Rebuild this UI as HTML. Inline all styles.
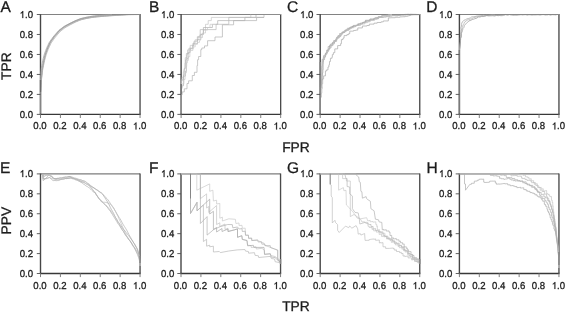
<!DOCTYPE html>
<html><head><meta charset="utf-8"><title>ROC and PR curves</title>
<style>
html,body{margin:0;padding:0;background:#fff;}
body{width:567px;height:312px;overflow:hidden;font-family:"Liberation Sans",sans-serif;}
svg text{font-family:"Liberation Sans",sans-serif;fill:#1c1c1c;stroke:#1c1c1c;stroke-width:0.3px;text-rendering:geometricPrecision;}
.t{font-size:10.0px;text-rendering:geometricPrecision;}
.L{font-size:15.5px;}
.g1{fill:#1c1c1c;stroke:#1c1c1c;stroke-width:0.2px;}
.a{font-size:13.8px;}
</style></head><body>
<svg width="567" height="312" viewBox="0 0 567 312" style="display:block;will-change:transform;opacity:0.999">
<rect width="567" height="312" fill="#fff"/>
<path d="M40.5 14.5H140.05" fill="none" stroke="#6c6c6c" stroke-width="0.85"/>
<path d="M40.5 114.4V14.1" fill="none" stroke="#464646" stroke-width="1.4"/>
<path d="M140.05 114.4V14.1" fill="none" stroke="#4a4a4a" stroke-width="1.35"/>
<polyline points="40.5,114.4 40.5,92.42 40.5,90.73 40.5,89.04 40.5,87.35 40.5,85.66 40.5,83.96 40.5,82.26 40.5,80.55 40.5,78.85 40.5,77.16 40.54,75.46 40.62,73.77 40.77,72.09 40.93,70.38 41.18,68.66 41.49,66.98 41.8,65.32 42.12,63.66 42.44,61.99 42.8,60.31 43.2,58.65 43.6,57.01 44.02,55.34 44.53,53.68 45.13,52.07 45.71,50.48 46.31,48.87 46.98,47.28 47.71,45.74 48.42,44.21 49.17,42.63 50.1,41.14 51.1,39.75 52.1,38.38 53.1,36.99 54.2,35.67 55.31,34.39 56.43,33.12 57.54,31.84 58.68,30.53 60.04,29.45 61.41,28.44 62.77,27.44 64.15,26.42 65.66,25.59 67.15,24.79 68.64,23.99 70.15,23.21 71.67,22.47 73.19,21.73 74.72,20.98 76.29,20.32 77.86,19.68 79.44,19.03 81.08,18.5 82.74,18.1 84.38,17.69 86.05,17.31 87.72,17 89.38,16.68 91.06,16.37 92.75,16.14 94.43,15.92 96.11,15.69 97.8,15.49 99.49,15.32 101.17,15.15 102.85,15 104.54,14.88 106.24,14.79 107.93,14.71 109.62,14.63 111.31,14.56 112.99,14.5 114.68,14.5 116.37,14.5 118.06,14.5 119.75,14.5 121.44,14.5 123.14,14.5 124.83,14.5 126.52,14.5 128.22,14.5 129.91,14.5 131.6,14.5 133.29,14.5 134.98,14.5 136.67,14.5 138.36,14.5 140.05,14.5" fill="none" stroke="#999999" stroke-width="0.7" stroke-linejoin="round"/>
<polyline points="40.5,114.4 40.5,92.42 40.52,90.73 40.54,89.04 40.56,87.35 40.58,85.66 40.6,83.97 40.62,82.28 40.69,80.58 40.81,78.89 40.93,77.2 41.06,75.52 41.2,73.83 41.38,72.15 41.57,70.46 41.83,68.77 42.16,67.1 42.49,65.45 42.82,63.79 43.15,62.13 43.51,60.47 43.92,58.82 44.32,57.18 44.73,55.53 45.23,53.9 45.8,52.3 46.38,50.71 46.95,49.12 47.6,47.54 48.3,46 49,44.46 49.7,42.91 50.58,41.45 51.55,40.06 52.51,38.67 53.48,37.28 54.54,35.95 55.63,34.65 56.71,33.36 57.8,32.06 58.89,30.75 60.21,29.67 61.55,28.64 62.9,27.61 64.25,26.57 65.73,25.73 67.21,24.91 68.7,24.1 70.2,23.3 71.71,22.55 73.22,21.8 74.75,21.04 76.32,20.38 77.88,19.74 79.46,19.09 81.1,18.57 82.75,18.18 84.4,17.78 86.07,17.42 87.74,17.12 89.4,16.83 91.08,16.54 92.78,16.34 94.45,16.15 96.13,15.95 97.82,15.77 99.51,15.64 101.2,15.51 102.88,15.38 104.57,15.28 106.26,15.2 107.95,15.12 109.64,15.05 111.33,14.98 113.02,14.92 114.71,14.85 116.4,14.78 118.08,14.72 119.77,14.65 121.46,14.59 123.15,14.53 124.84,14.5 126.53,14.5 128.22,14.5 129.91,14.5 131.6,14.5 133.29,14.5 134.98,14.5 136.67,14.5 138.36,14.5 140.05,14.5" fill="none" stroke="#a7a7a7" stroke-width="0.7" stroke-linejoin="round"/>
<polyline points="40.5,114.4 40.5,92.42 40.58,90.73 40.65,89.05 40.73,87.36 40.81,85.67 40.88,83.98 40.96,82.3 41.08,80.61 41.25,78.93 41.43,77.25 41.6,75.57 41.77,73.89 41.94,72.21 42.11,70.53 42.36,68.86 42.67,67.2 42.98,65.54 43.29,63.88 43.6,62.22 43.95,60.56 44.33,58.92 44.71,57.27 45.1,55.63 45.57,54.01 46.13,52.41 46.68,50.82 47.24,49.22 47.87,47.66 48.55,46.11 49.23,44.57 49.91,43.02 50.77,41.57 51.73,40.18 52.69,38.79 53.65,37.4 54.7,36.08 55.78,34.78 56.87,33.49 57.95,32.19 59.04,30.9 60.34,29.83 61.69,28.81 63.03,27.79 64.38,26.77 65.85,25.95 67.34,25.15 68.83,24.34 70.33,23.57 71.85,22.84 73.37,22.1 74.89,21.37 76.46,20.73 78.03,20.11 79.6,19.48 81.21,18.99 82.86,18.62 84.5,18.24 86.16,17.9 87.82,17.62 89.49,17.35 91.16,17.08 92.84,16.89 94.51,16.71 96.19,16.52 97.87,16.36 99.56,16.23 101.24,16.1 102.93,15.97 104.61,15.84 106.3,15.73 107.98,15.63 109.67,15.53 111.36,15.43 113.04,15.33 114.73,15.23 116.42,15.13 118.1,15.03 119.79,14.93 121.48,14.84 123.16,14.75 124.85,14.66 126.54,14.58 128.22,14.5 129.91,14.5 131.6,14.5 133.29,14.5 134.98,14.5 136.67,14.5 138.36,14.5 140.05,14.5" fill="none" stroke="#929292" stroke-width="0.7" stroke-linejoin="round"/>
<polyline points="40.5,114.4 40.5,92.42 40.61,90.74 40.73,89.05 40.83,87.36 40.94,85.68 41.04,83.99 41.13,82.31 41.27,80.63 41.46,78.95 41.64,77.27 41.83,75.59 42,73.91 42.16,72.23 42.33,70.56 42.56,68.89 42.87,67.24 43.18,65.58 43.49,63.91 43.8,62.26 44.15,60.61 44.53,58.97 44.93,57.32 45.32,55.69 45.8,54.08 46.36,52.5 46.93,50.91 47.5,49.32 48.14,47.77 48.84,46.24 49.54,44.7 50.23,43.18 51.09,41.77 52.05,40.4 53.03,39.02 54,37.66 55.04,36.36 56.14,35.08 57.24,33.8 58.34,32.52 59.4,31.27 60.67,30.25 62.02,29.25 63.37,28.24 64.69,27.25 66.14,26.46 67.62,25.67 69.11,24.87 70.6,24.11 72.11,23.38 73.63,22.64 75.13,21.91 76.68,21.28 78.24,20.65 79.79,20.03 81.35,19.54 82.98,19.16 84.62,18.77 86.25,18.42 87.91,18.12 89.57,17.83 91.22,17.54 92.88,17.34 94.56,17.14 96.24,16.93 97.91,16.75 99.59,16.6 101.27,16.45 102.95,16.3 104.63,16.14 106.32,16 108,15.87 109.68,15.74 111.37,15.62 113.05,15.5 114.74,15.38 116.42,15.26 118.11,15.15 119.8,15.04 121.48,14.94 123.17,14.84 124.85,14.74 126.54,14.65 128.23,14.57 129.91,14.56 131.6,14.55 133.29,14.54 134.98,14.53 136.67,14.52 138.36,14.51 140.05,14.5" fill="none" stroke="#a2a2a2" stroke-width="0.7" stroke-linejoin="round"/>
<polyline points="40.5,114.4 40.5,92.42 40.62,90.74 40.74,89.05 40.85,87.36 40.96,85.68 41.07,83.99 41.18,82.31 41.34,80.64 41.55,78.96 41.77,77.29 41.99,75.61 42.2,73.93 42.39,72.26 42.58,70.59 42.85,68.94 43.18,67.29 43.53,65.64 43.87,63.99 44.21,62.34 44.59,60.71 45.01,59.08 45.43,57.44 45.85,55.83 46.35,54.26 46.94,52.7 47.53,51.11 48.12,49.55 48.77,48.03 49.47,46.52 50.19,44.99 50.87,43.51 51.7,42.17 52.66,40.82 53.64,39.44 54.59,38.09 55.61,36.82 56.69,35.55 57.78,34.26 58.87,32.96 59.88,31.75 61.08,30.77 62.4,29.76 63.74,28.72 65.01,27.74 66.4,26.94 67.87,26.12 69.33,25.3 70.8,24.51 72.29,23.75 73.8,22.98 75.28,22.23 76.79,21.57 78.35,20.91 79.87,20.26 81.41,19.75 83.02,19.35 84.65,18.93 86.28,18.56 87.93,18.24 89.58,17.93 91.23,17.63 92.89,17.42 94.57,17.21 96.24,17 97.91,16.81 99.59,16.66 101.28,16.52 102.96,16.38 104.64,16.22 106.32,16.09 108.01,15.97 109.69,15.86 111.38,15.75 113.06,15.64 114.75,15.53 116.43,15.42 118.12,15.32 119.81,15.21 121.49,15.11 123.18,15.01 124.86,14.91 126.55,14.81 128.23,14.72 129.91,14.7 131.6,14.67 133.29,14.65 134.98,14.61 136.67,14.58 138.36,14.54 140.05,14.5" fill="none" stroke="#ababab" stroke-width="0.7" stroke-linejoin="round"/>
<path d="M40.5 114.4L40.5 92" stroke="#858585" stroke-width="1.4"/>
<path d="M40.5 92L40.5 80" stroke="#6a6a6a" stroke-width="1.4"/>
<path d="M112 14.5L140.05 14.5" stroke="#848484" stroke-width="0.85"/>
<path d="M39.9 114.4H140.65" fill="none" stroke="#383838" stroke-width="1.35"/>
<path d="M36.8 114.4H40.5" stroke="#505050" stroke-width="0.9"/>
<text transform="translate(33,118) scale(0.96,1)" text-anchor="end" class="t">0.0</text>
<path d="M40.5 114.4V118" stroke="#808080" stroke-width="1"/>
<text transform="translate(40,129.4) scale(0.96,1)" text-anchor="middle" class="t">0.0</text>
<path d="M36.8 94.42H40.5" stroke="#505050" stroke-width="0.9"/>
<text transform="translate(33,98.02) scale(0.96,1)" text-anchor="end" class="t">0.2</text>
<path d="M60.41 114.4V118" stroke="#808080" stroke-width="1"/>
<text transform="translate(59.91,129.4) scale(0.96,1)" text-anchor="middle" class="t">0.2</text>
<path d="M36.8 74.44H40.5" stroke="#505050" stroke-width="0.9"/>
<text transform="translate(33,78.04) scale(0.96,1)" text-anchor="end" class="t">0.4</text>
<path d="M80.32 114.4V118" stroke="#808080" stroke-width="1"/>
<text transform="translate(79.82,129.4) scale(0.96,1)" text-anchor="middle" class="t">0.4</text>
<path d="M36.8 54.46H40.5" stroke="#505050" stroke-width="0.9"/>
<text transform="translate(33,58.06) scale(0.96,1)" text-anchor="end" class="t">0.6</text>
<path d="M100.23 114.4V118" stroke="#808080" stroke-width="1"/>
<text transform="translate(99.73,129.4) scale(0.96,1)" text-anchor="middle" class="t">0.6</text>
<path d="M36.8 34.48H40.5" stroke="#505050" stroke-width="0.9"/>
<text transform="translate(33,38.08) scale(0.96,1)" text-anchor="end" class="t">0.8</text>
<path d="M120.14 114.4V118" stroke="#808080" stroke-width="1"/>
<text transform="translate(119.64,129.4) scale(0.96,1)" text-anchor="middle" class="t">0.8</text>
<path d="M36.8 14.5H40.5" stroke="#505050" stroke-width="0.9"/>
<path d="M3.42 -7.0H2.8Q2.3 -5.9 1.0 -5.25V-4.4Q1.95 -4.75 2.55 -5.45V0H3.42Z" transform="translate(19.66,18.1) scale(1.043,1)" class="g1"/><text transform="translate(24.99,18.1) scale(0.96,1)" text-anchor="start" class="t">.0</text>
<path d="M140.05 114.4V118" stroke="#808080" stroke-width="1"/>
<path d="M3.42 -7.0H2.8Q2.3 -5.9 1.0 -5.25V-4.4Q1.95 -4.75 2.55 -5.45V0H3.42Z" transform="translate(132.88,129.4) scale(1.043,1)" class="g1"/><text transform="translate(138.22,129.4) scale(0.96,1)" text-anchor="start" class="t">.0</text>
<text x="0.6" y="11.8" class="L">A</text>
<path d="M181.1 14.5H280.65" fill="none" stroke="#6c6c6c" stroke-width="0.85"/>
<path d="M181.1 114.4V14.1" fill="none" stroke="#464646" stroke-width="1.4"/>
<path d="M280.65 114.4V14.1" fill="none" stroke="#4a4a4a" stroke-width="1.35"/>
<polyline points="181.1,114.4 181.1,86 181.1,84.22 181.63,84.22 181.63,81.05 182.1,81.05 182.1,77.27 183.36,77.27 183.36,71.79 184.04,71.79 184.04,69.42 184.67,69.42 184.67,66.32 184.79,66.32 184.79,63.26 185.23,63.26 185.23,57.75 186.95,57.75 186.95,54.69 187.53,54.69 187.53,49.91 190.23,49.91 190.23,45.38 192.98,45.38 192.98,43.08 195.13,43.08 195.13,39.78 198.13,39.78 198.13,37.32 197.74,37.32 200.2,37.5 200.2,34.3 203.4,34.3 203.4,30.1 205.5,30.1 205.5,24.3 208.2,24.3 208.2,20.6 211.3,20.6 211.3,17.4 250.8,17.4 250.8,14.5 280.6,14.5" fill="none" stroke="#c5c5c5" stroke-width="0.7" stroke-linejoin="round"/>
<polyline points="181.1,114.4 181.1,90.9 181.1,88.38 182.09,88.38 182.09,85.77 183.53,85.77 183.53,82.55 183.65,82.55 183.65,76.1 185.42,76.1 185.42,71.21 186.4,71.21 186.4,65.46 186.37,65.46 186.37,62.86 187.09,62.86 187.09,58.4 188.14,58.4 188.14,52.42 190.19,52.42 190.19,48.69 193.17,48.69 193.17,43.76 197.38,43.76 197.38,39.69 200.8,39.69 201,34.3 203.4,34.3 203.4,27.5 212.4,27.5 212.4,24.3 217.7,24.3 217.7,20.6 244.9,20.6 244.9,17.4 256,17.4 256,14.5 280.6,14.5" fill="none" stroke="#b0b0b0" stroke-width="0.7" stroke-linejoin="round"/>
<polyline points="181.1,114.4 181.1,84 181.1,79.85 183.52,79.85 183.52,74.92 184.24,74.92 184.24,68.42 185.45,68.42 185.45,65.05 185.49,65.05 185.49,59.87 186.33,59.87 186.33,53.55 188.93,53.55 188.93,48.19 192.43,48.19 192.43,45.59 194.06,45.59 194.06,41.18 197.33,41.18 197.33,36.74 199.31,36.74 199.31,36.24 198.83,36.24 200.2,36 200.2,29.6 216.1,29.6 216.1,24.3 228.8,24.3 228.8,17.4 264,17.4 264,14.5 280.6,14.5" fill="none" stroke="#b9b9b9" stroke-width="0.7" stroke-linejoin="round"/>
<polyline points="181.1,114.4 181.1,88 181.1,84.09 183.8,84.09 183.8,79.45 185.07,79.45 185.07,72.82 186.43,72.82 186.43,66.34 186.73,66.34 186.73,60.35 188.4,60.35 188.4,56.69 189.86,56.69 189.86,50.48 192.89,50.48 192.89,46.88 195.22,46.88 195.22,44.19 197.46,44.19 197.46,42.39 199.52,42.39 199.52,40.95 199.94,40.95 200,37.5 202.5,37.5 202.5,33 205.5,33 205.5,30.1 207.5,30.1 207.5,27.5 210,27.5 210,24.3 212.4,24.3" fill="none" stroke="#cacaca" stroke-width="0.7" stroke-linejoin="round"/>
<polyline points="181.1,114.4 181.1,94.6 182.2,94.6 182.2,91.9 184.3,91.9 184.3,88.8 187,88.8 187,83.5 188.6,83.5 188.6,80.8 192.3,80.8 192.3,75.5 194.4,75.5 194.4,72.3 197,72.3 197,65.5 197.6,65.5 197.6,59.7 198.6,59.7 198.6,56.5 200.8,56.5 200.8,49.6 201.8,49.6 201.8,48 204.5,48 204.5,45.9 207.6,45.9 207.6,40.7 215,40.7 215,37 222.4,37 222.4,24.8 233.6,24.8 233.6,20.6 256.6,20.6 256.6,17.4 264,17.4" fill="none" stroke="#b2b2b2" stroke-width="0.7" stroke-linejoin="round"/>
<path d="M181.1 114.4L181.1 94" stroke="#858585" stroke-width="1.4"/>
<path d="M181.1 94L181.1 84" stroke="#686868" stroke-width="1.4"/>
<path d="M250.8 14.5L280.65 14.5" stroke="#848484" stroke-width="0.85"/>
<path d="M180.5 114.4H281.25" fill="none" stroke="#383838" stroke-width="1.35"/>
<path d="M177.4 114.4H181.1" stroke="#505050" stroke-width="0.9"/>
<text transform="translate(174.3,118) scale(0.96,1)" text-anchor="end" class="t">0.0</text>
<path d="M181.1 114.4V118" stroke="#808080" stroke-width="1"/>
<text transform="translate(180.6,129.4) scale(0.96,1)" text-anchor="middle" class="t">0.0</text>
<path d="M177.4 94.42H181.1" stroke="#505050" stroke-width="0.9"/>
<text transform="translate(174.3,98.02) scale(0.96,1)" text-anchor="end" class="t">0.2</text>
<path d="M201.01 114.4V118" stroke="#808080" stroke-width="1"/>
<text transform="translate(200.51,129.4) scale(0.96,1)" text-anchor="middle" class="t">0.2</text>
<path d="M177.4 74.44H181.1" stroke="#505050" stroke-width="0.9"/>
<text transform="translate(174.3,78.04) scale(0.96,1)" text-anchor="end" class="t">0.4</text>
<path d="M220.92 114.4V118" stroke="#808080" stroke-width="1"/>
<text transform="translate(220.42,129.4) scale(0.96,1)" text-anchor="middle" class="t">0.4</text>
<path d="M177.4 54.46H181.1" stroke="#505050" stroke-width="0.9"/>
<text transform="translate(174.3,58.06) scale(0.96,1)" text-anchor="end" class="t">0.6</text>
<path d="M240.83 114.4V118" stroke="#808080" stroke-width="1"/>
<text transform="translate(240.33,129.4) scale(0.96,1)" text-anchor="middle" class="t">0.6</text>
<path d="M177.4 34.48H181.1" stroke="#505050" stroke-width="0.9"/>
<text transform="translate(174.3,38.08) scale(0.96,1)" text-anchor="end" class="t">0.8</text>
<path d="M260.74 114.4V118" stroke="#808080" stroke-width="1"/>
<text transform="translate(260.24,129.4) scale(0.96,1)" text-anchor="middle" class="t">0.8</text>
<path d="M177.4 14.5H181.1" stroke="#505050" stroke-width="0.9"/>
<path d="M3.42 -7.0H2.8Q2.3 -5.9 1.0 -5.25V-4.4Q1.95 -4.75 2.55 -5.45V0H3.42Z" transform="translate(160.96,18.1) scale(1.043,1)" class="g1"/><text transform="translate(166.29,18.1) scale(0.96,1)" text-anchor="start" class="t">.0</text>
<path d="M280.65 114.4V118" stroke="#808080" stroke-width="1"/>
<path d="M3.42 -7.0H2.8Q2.3 -5.9 1.0 -5.25V-4.4Q1.95 -4.75 2.55 -5.45V0H3.42Z" transform="translate(273.48,129.4) scale(1.043,1)" class="g1"/><text transform="translate(278.82,129.4) scale(0.96,1)" text-anchor="start" class="t">.0</text>
<text x="149.0" y="11.8" class="L">B</text>
<path d="M320.2 14.5H419.75" fill="none" stroke="#6c6c6c" stroke-width="0.85"/>
<path d="M320.2 114.4V14.1" fill="none" stroke="#464646" stroke-width="1.4"/>
<path d="M419.75 114.4V14.1" fill="none" stroke="#4a4a4a" stroke-width="1.35"/>
<polyline points="320.2,114.4 320.2,112.43 319.98,112.43 319.98,108.26 320.34,108.26 320.34,104.36 320.04,104.36 320.04,102.16 320.3,102.16 320.3,98.98 320.14,98.98 320.14,96.24 320.2,96.24 320.2,92.47 320.43,92.47 320.43,88.28 320.91,88.28 320.91,86.9 320.92,86.9 320.92,85.36 321.53,85.36 321.53,80.96 321.54,80.96 321.54,78.5 321.72,78.5 321.72,74.33 321.97,74.33 321.97,72.77 322.04,72.77 322.04,70.22 321.92,70.22 321.92,66.16 322.1,66.16 322.1,64.04 322.05,64.04 322.05,59.38 323.49,59.38 323.49,55.74 325.23,55.74 325.23,54.39 326.01,54.39 326.01,52.99 326.7,52.99 326.7,50.15 328.17,50.15 328.17,46.54 330.4,46.54 330.4,44.13 332.33,44.13 332.33,42.7 333.73,42.7 333.73,40.52 335.53,40.52 335.53,39.51 336.58,39.51 336.58,37.77 337.97,37.77 337.97,35.55 339.64,35.55 339.64,33.54 341.87,33.54 341.87,32.3 343.91,32.3 343.91,31.14 345.71,31.14 345.71,30.03 347.27,30.03 347.27,28.25 350.05,28.25 350.05,27.11 351.84,27.11 351.84,26.59 353.52,26.59 353.52,25.42 357.2,25.42 357.2,24.17 360.43,24.17 360.43,22.99 363.61,22.99 363.61,21.99 365.44,21.99 365.44,20.24 370.06,20.24 370.06,18.9 373.94,18.9 373.94,18.32 375.52,18.32 375.52,17.48 378.12,17.48 378.12,16.69 381.62,16.69 381.62,15.58 385.51,15.58 385.51,15.37 390.08,15.37 390.08,14.76 392.6,14.76 392.6,15.09 396.85,15.09 396.85,15.03 400.51,15.03 400.51,14.87 403.18,14.87 403.18,14.9 406.33,14.9 406.33,14.57 410.97,14.57 410.97,14.6 414.94,14.6 414.94,14.55 418.12,14.55 418.12,14.56 419.71,14.56" fill="none" stroke="#a7a7a7" stroke-width="0.7" stroke-linejoin="round"/>
<polyline points="320.2,114.4 320.2,109.95 320.2,109.95 320.2,105.39 320.13,105.39 320.13,103.59 320.39,103.59 320.39,102.13 320.23,102.13 320.23,97.71 320.31,97.71 320.31,93.76 320.12,93.76 320.12,90.05 320.67,90.05 320.67,87.69 321.09,87.69 321.09,84.29 321.48,84.29 321.48,81.05 321.64,81.05 321.64,77.61 321.55,77.61 321.55,75.71 321.69,75.71 321.69,72.68 321.63,72.68 321.63,70.31 321.86,70.31 321.86,66.09 322.24,66.09 322.24,61.78 323.22,61.78 323.22,57.36 325.19,57.36 325.19,54.47 326.68,54.47 326.68,52.04 328.03,52.04 328.03,50.38 329.05,50.38 329.05,48.98 329.89,48.98 329.89,47.67 331.16,47.67 331.16,45.72 332.77,45.72 332.77,43.79 334.5,43.79 334.5,41.56 336.03,41.56 336.03,38.26 338.82,38.26 338.82,35.98 340.83,35.98 340.83,33.48 343.03,33.48 343.03,32 344.83,32 344.83,31.13 346.44,31.13 346.44,30.05 348.24,30.05 348.24,28.88 349.99,28.88 349.99,27.48 353.04,27.48 353.04,25.85 357,25.85 357,24.95 360.78,24.95 360.78,24.07 362.42,24.07 362.42,22.41 366.44,22.41 366.44,21.04 370.58,21.04 370.58,19.74 374.29,19.74 374.29,18.28 378.47,18.28 378.47,16.78 382.04,16.78 382.04,15.78 386.04,15.78 386.04,15.38 388.32,15.38 388.32,14.62 393.34,14.62 393.34,14.67 397.83,14.67 397.83,14.54 399.74,14.54 399.74,14.54 403.89,14.54 403.89,14.54 407.52,14.54 407.52,14.58 410.19,14.58 410.19,14.32 413.43,14.32 413.43,14.36 416.42,14.36 416.42,14.56 419.61,14.56" fill="none" stroke="#b9b9b9" stroke-width="0.7" stroke-linejoin="round"/>
<polyline points="320.2,114.4 320.2,112.44 320.37,112.44 320.37,108.81 320.28,108.81 320.28,106.55 320.37,106.55 320.37,102.93 320.39,102.93 320.39,99.26 320.3,99.26 320.3,97.81 320.36,97.81 320.36,96.12 320.1,96.12 320.1,92.37 320.66,92.37 320.66,90.03 320.61,90.03 320.61,87.55 321.07,87.55 321.07,83.14 321.63,83.14 321.63,79.84 322.26,79.84 322.26,75.65 322.57,75.65 322.57,72.79 322.86,72.79 322.86,69.57 323.17,69.57 323.17,67.68 323.15,67.68 323.15,63.71 323.33,63.71 323.33,59.53 324.59,59.53 324.59,56.73 325.43,56.73 325.43,53.05 327.19,53.05 327.19,50.14 328.59,50.14 328.59,48.81 329.57,48.81 329.57,45.35 332.18,45.35 332.18,42.93 334.27,42.93 334.27,41.21 336.01,41.21 336.01,40.12 336.99,40.12 336.99,36.95 340.15,36.95 340.15,34.93 342.01,34.93 342.01,32.41 344.91,32.41 344.91,30.14 348.92,30.14 348.92,28.05 352.03,28.05 352.03,26.34 355.99,26.34 355.99,25.47 358.38,25.47 358.38,23.78 362.51,23.78 362.51,22.78 365.14,22.78 365.14,20.94 369.34,20.94 369.34,19.83 373.51,19.83 373.51,19.05 374.85,19.05 374.85,19.01 376.96,19.01 376.96,18.3 378.83,18.3 378.83,17.41 383.56,17.41 383.56,17.07 386.3,17.07 386.3,16.63 389.76,16.63 389.76,16.1 392.1,16.1 392.1,15.71 395.42,15.71 395.42,15.82 398.01,15.82 398.01,15.3 400.45,15.3 400.45,14.93 404.03,14.93 404.03,14.65 407.08,14.65 407.08,14.37 411.76,14.37 411.76,14.45 415.27,14.45 415.27,14.47 419.96,14.47" fill="none" stroke="#a2a2a2" stroke-width="0.7" stroke-linejoin="round"/>
<polyline points="320.2,114.4 320.2,111.97 320.19,111.97 320.19,110.03 320.44,110.03 320.44,107.11 320.16,107.11 320.16,105.09 320.26,105.09 320.26,103.57 320.13,103.57 320.13,100.54 320.11,100.54 320.11,95.51 320.39,95.51 320.39,91.2 320.14,91.2 320.14,87.17 321.03,87.17 321.03,84.75 321.04,84.75 321.04,81.38 321.16,81.38 321.16,79 321.18,79 321.18,77 321.67,77 321.67,75.13 321.67,75.13 321.67,72.53 321.43,72.53 321.43,67.94 322.24,67.94 322.24,63.57 322.52,63.57 322.52,59.46 324.29,59.46 324.29,55.28 326.17,55.28 326.17,53.34 327.31,53.34 327.31,51.45 328.56,51.45 328.56,47.96 330.75,47.96 330.75,44.9 333.3,44.9 333.3,41.49 336.6,41.49 336.6,37.72 339.29,37.72 339.29,36.51 340.81,36.51 340.81,33.57 342.87,33.57 342.87,31.46 346.06,31.46 346.06,29.76 349.21,29.76 349.21,28.97 350.82,28.97 350.82,27.77 353.78,27.77 353.78,26.86 355.41,26.86 355.41,25.36 360.37,25.36 360.37,23.93 364.84,23.93 364.84,22.68 367.74,22.68 367.74,21.78 370.06,21.78 370.06,20.39 374.65,20.39 374.65,19.03 378.29,19.03 378.29,17.5 382.36,17.5 382.36,16.18 386.83,16.18 386.83,15.67 390.05,15.67 390.05,14.78 392.95,14.78 392.95,14.8 396.97,14.8 396.97,14.62 400.05,14.62 400.05,14.69 402.09,14.69 402.09,14.69 404.64,14.69 404.64,14.34 408.92,14.34 408.92,14.71 410.44,14.71 410.44,14.73 412.44,14.73 412.44,14.59 415.92,14.59 415.92,14.57 418.65,14.57 418.65,14.51 419.95,14.51" fill="none" stroke="#bebebe" stroke-width="0.7" stroke-linejoin="round"/>
<polyline points="320.2,114.4 320.2,110.59 320.14,110.59 320.14,106.48 320.31,106.48 320.31,102.12 320.13,102.12 320.13,97.28 321.3,97.28 321.3,93.12 321.79,93.12 321.79,88.62 322.17,88.62 322.17,87.01 322.07,87.01 322.07,83.79 322.66,83.79 322.66,78.89 323.61,78.89 323.61,75.88 325.45,75.88 325.45,71.15 326.34,71.15 326.34,69.96 327.97,69.96 327.97,66.98 328.88,66.98 328.88,64.81 329.49,64.81 329.49,61.52 330.42,61.52 330.42,58.26 332.03,58.26 332.03,56.86 332.34,56.86 332.34,54.62 333.4,54.62 333.4,52.64 334.81,52.64 334.81,48.9 337.68,48.9 337.68,45.54 340.63,45.54 340.63,43.63 341.42,43.63 341.42,39.58 343,39.58 343,38.1 344.08,38.1 344.08,35.58 346.91,35.58 346.91,34.59 348.78,34.59 348.78,33.55 349.76,33.55 349.76,31.15 353.59,31.15 353.59,30.46 355.73,30.46 355.73,30.09 357.79,30.09 357.79,27.94 362.38,27.94 362.38,26.03 366.94,26.03 366.94,25.52 369.32,25.52 369.32,24.13 374.05,24.13 374.05,23.17 377.2,23.17 377.2,22.47 381.07,22.47 381.07,21.85 383.31,21.85 383.31,20.95 388.34,20.95 388.34,17.88 390.41,17.88 390.41,17.72 395.21,17.72 395.21,17.29 399.91,17.29 399.91,16.86 402.43,16.86 402.43,16.74 405.19,16.74 405.19,16.3 407.48,16.3 407.48,15.89 409.31,15.89 409.31,15.35 410.79,15.35 410.79,14.72 413.4,14.72 413.4,14.64 416.92,14.64 416.92,14.59 418.58,14.59 418.58,14.59 419.86,14.59" fill="none" stroke="#a7a7a7" stroke-width="0.7" stroke-linejoin="round"/>
<path d="M320.2 114.4L320.2 62" stroke="#858585" stroke-width="1.4"/>
<path d="M392 14.5L419.75 14.5" stroke="#848484" stroke-width="0.85"/>
<path d="M319.6 114.4H420.35" fill="none" stroke="#383838" stroke-width="1.35"/>
<path d="M316.5 114.4H320.2" stroke="#505050" stroke-width="0.9"/>
<text transform="translate(313.4,118) scale(0.96,1)" text-anchor="end" class="t">0.0</text>
<path d="M320.2 114.4V118" stroke="#808080" stroke-width="1"/>
<text transform="translate(319.7,129.4) scale(0.96,1)" text-anchor="middle" class="t">0.0</text>
<path d="M316.5 94.42H320.2" stroke="#505050" stroke-width="0.9"/>
<text transform="translate(313.4,98.02) scale(0.96,1)" text-anchor="end" class="t">0.2</text>
<path d="M340.11 114.4V118" stroke="#808080" stroke-width="1"/>
<text transform="translate(339.61,129.4) scale(0.96,1)" text-anchor="middle" class="t">0.2</text>
<path d="M316.5 74.44H320.2" stroke="#505050" stroke-width="0.9"/>
<text transform="translate(313.4,78.04) scale(0.96,1)" text-anchor="end" class="t">0.4</text>
<path d="M360.02 114.4V118" stroke="#808080" stroke-width="1"/>
<text transform="translate(359.52,129.4) scale(0.96,1)" text-anchor="middle" class="t">0.4</text>
<path d="M316.5 54.46H320.2" stroke="#505050" stroke-width="0.9"/>
<text transform="translate(313.4,58.06) scale(0.96,1)" text-anchor="end" class="t">0.6</text>
<path d="M379.93 114.4V118" stroke="#808080" stroke-width="1"/>
<text transform="translate(379.43,129.4) scale(0.96,1)" text-anchor="middle" class="t">0.6</text>
<path d="M316.5 34.48H320.2" stroke="#505050" stroke-width="0.9"/>
<text transform="translate(313.4,38.08) scale(0.96,1)" text-anchor="end" class="t">0.8</text>
<path d="M399.84 114.4V118" stroke="#808080" stroke-width="1"/>
<text transform="translate(399.34,129.4) scale(0.96,1)" text-anchor="middle" class="t">0.8</text>
<path d="M316.5 14.5H320.2" stroke="#505050" stroke-width="0.9"/>
<path d="M3.42 -7.0H2.8Q2.3 -5.9 1.0 -5.25V-4.4Q1.95 -4.75 2.55 -5.45V0H3.42Z" transform="translate(300.06,18.1) scale(1.043,1)" class="g1"/><text transform="translate(305.39,18.1) scale(0.96,1)" text-anchor="start" class="t">.0</text>
<path d="M419.75 114.4V118" stroke="#808080" stroke-width="1"/>
<path d="M3.42 -7.0H2.8Q2.3 -5.9 1.0 -5.25V-4.4Q1.95 -4.75 2.55 -5.45V0H3.42Z" transform="translate(412.58,129.4) scale(1.043,1)" class="g1"/><text transform="translate(417.92,129.4) scale(0.96,1)" text-anchor="start" class="t">.0</text>
<text x="286.9" y="11.8" class="L">C</text>
<path d="M459.4 14.5H558.95" fill="none" stroke="#6c6c6c" stroke-width="0.85"/>
<path d="M459.4 114.4V14.1" fill="none" stroke="#464646" stroke-width="1.4"/>
<path d="M558.95 114.4V14.1" fill="none" stroke="#4a4a4a" stroke-width="1.35"/>
<polyline points="459.4,114.4 459.4,50 460.3,41.7 460.3,39.8 460.23,38.57 460.6,36.71 460.66,34.79 460.87,33.21 460.98,31.56 461.19,29.71 460.9,27.8 461.48,26.12 461.62,24.73 461.71,23.25 462.53,21.82 464.18,20.13 465.63,19.73 466.76,18.96 468.35,18.52 470.35,17.96 471.54,17 473.59,16.77 474.94,16.56 477.11,15.98 478.32,16.08 480.21,15.92 481.97,15.57 483.34,15.23 485.35,15.48 487.03,15.38 488.82,15.37 490.61,14.87 491.95,14.58 493.59,15.03 495.88,14.87 497.06,14.81 498.78,14.96 500.86,14.86 502.54,14.62 504.42,15 505.7,14.62 507.76,14.79 509.24,14.62 511.34,14.5 512.52,14.78 514.28,14.92 516.02,14.93 517.77,14.9 519.74,14.79 521.07,14.5 522.66,14.5 524.81,14.5 526.22,14.65 527.87,14.5 529.64,14.71 531.27,14.93 533.32,14.73 534.99,14.57 537,14.85 538.6,14.5 540.15,14.87 541.89,14.56 543.61,14.5 545.38,14.74 546.63,14.54 548.71,14.5 550.48,14.82 552.34,14.5 553.53,14.76 555.56,14.74 557.45,14.5 558.9,14.5" fill="none" stroke="#9d9d9d" stroke-width="0.7" stroke-linejoin="round"/>
<polyline points="459.4,114.4 459.4,51 460.4,41.7 460.65,39.69 460.54,38.16 461.01,36.81 461.27,34.72 461.1,33.01 461.21,31.68 461.4,29.82 462.17,28.42 462.29,26.82 463.2,24.81 463.87,23.77 464.56,22.06 466.25,21.08 467.07,20.03 469.09,19.62 470.62,19.09 472,18.65 473.47,17.81 475.39,17.35 477.02,16.84 478.56,16.15 479.9,16.14 481.46,15.91 483.14,15.75 485.19,15.63 486.67,15.36 488.28,15.79 490.22,15.5 491.57,15.52 493.24,15.21 495.5,15.33 496.87,15.31 498.75,15.36 500,14.83 501.73,14.87 503.29,15 505.43,14.55 506.96,14.6 508.82,14.64 510.04,14.5 511.93,14.5 513.62,14.93 515.17,14.5 517.27,14.65 518.31,14.5 520.01,14.72 522.16,14.57 523.33,14.54 525.66,14.63 527.33,14.86 528.33,14.76 530.48,14.62 531.87,14.69 533.44,14.54 535.36,14.9 537.33,14.5 538.75,14.5 540.72,14.82 541.97,14.65 543.86,14.5 545.65,14.57 547.34,14.56 548.48,14.5 550.17,14.83 552.45,14.75 553.73,14.5 555.81,14.82 556.93,14.5 558.9,14.5" fill="none" stroke="#b0b0b0" stroke-width="0.7" stroke-linejoin="round"/>
<polyline points="459.4,114.4 459.4,52 460.5,41.7 460.39,40.19 460.68,38.39 461.27,36.97 461.33,35.12 461.24,33.44 461.94,32.14 462.54,30.48 462.94,28.49 463.88,27.43 464.35,25.46 465.24,24.29 466.57,23.21 467.71,22.21 468.95,20.85 470.15,20.64 472.23,19.57 473.8,19.11 474.79,18.72 476.68,18.2 478.3,17.03 479.84,17.04 481.67,16.51 483.06,16.55 484.45,16.44 486.52,15.66 488.04,15.7 489.41,15.85 491.62,15.79 492.67,15.73 494.8,16.03 496.41,15.36 498.24,15.73 499.28,15.38 500.94,15.73 502.57,15.62 503.93,14.72 505.82,14.5 507.17,14.97 509.51,14.5 511,15.02 512.77,14.94 514.03,14.81 515.8,14.96 517.6,14.89 519.37,14.56 520.93,14.5 522.23,14.94 524.02,14.76 525.8,14.5 527.47,14.9 528.94,14.5 530.5,14.5 532.61,14.74 534.36,14.71 536.02,14.5 537.13,14.5 538.93,14.91 540.47,14.54 542.02,14.5 544.01,14.63 545.65,14.84 547.55,14.86 549.01,14.5 550.35,14.71 552.03,14.5 554.07,14.5 555.67,14.5 557.19,14.5 558.9,14.5" fill="none" stroke="#969696" stroke-width="0.7" stroke-linejoin="round"/>
<path d="M459.4 114.4L459.4 50" stroke="#7a7a7a" stroke-width="1.4"/>
<path d="M495 14.5L558.95 14.5" stroke="#848484" stroke-width="0.85"/>
<path d="M458.8 114.4H559.55" fill="none" stroke="#383838" stroke-width="1.35"/>
<path d="M455.7 114.4H459.4" stroke="#505050" stroke-width="0.9"/>
<text transform="translate(452.3,118) scale(0.96,1)" text-anchor="end" class="t">0.0</text>
<path d="M459.4 114.4V118" stroke="#808080" stroke-width="1"/>
<text transform="translate(458.9,129.4) scale(0.96,1)" text-anchor="middle" class="t">0.0</text>
<path d="M455.7 94.42H459.4" stroke="#505050" stroke-width="0.9"/>
<text transform="translate(452.3,98.02) scale(0.96,1)" text-anchor="end" class="t">0.2</text>
<path d="M479.31 114.4V118" stroke="#808080" stroke-width="1"/>
<text transform="translate(478.81,129.4) scale(0.96,1)" text-anchor="middle" class="t">0.2</text>
<path d="M455.7 74.44H459.4" stroke="#505050" stroke-width="0.9"/>
<text transform="translate(452.3,78.04) scale(0.96,1)" text-anchor="end" class="t">0.4</text>
<path d="M499.22 114.4V118" stroke="#808080" stroke-width="1"/>
<text transform="translate(498.72,129.4) scale(0.96,1)" text-anchor="middle" class="t">0.4</text>
<path d="M455.7 54.46H459.4" stroke="#505050" stroke-width="0.9"/>
<text transform="translate(452.3,58.06) scale(0.96,1)" text-anchor="end" class="t">0.6</text>
<path d="M519.13 114.4V118" stroke="#808080" stroke-width="1"/>
<text transform="translate(518.63,129.4) scale(0.96,1)" text-anchor="middle" class="t">0.6</text>
<path d="M455.7 34.48H459.4" stroke="#505050" stroke-width="0.9"/>
<text transform="translate(452.3,38.08) scale(0.96,1)" text-anchor="end" class="t">0.8</text>
<path d="M539.04 114.4V118" stroke="#808080" stroke-width="1"/>
<text transform="translate(538.54,129.4) scale(0.96,1)" text-anchor="middle" class="t">0.8</text>
<path d="M455.7 14.5H459.4" stroke="#505050" stroke-width="0.9"/>
<path d="M3.42 -7.0H2.8Q2.3 -5.9 1.0 -5.25V-4.4Q1.95 -4.75 2.55 -5.45V0H3.42Z" transform="translate(438.96,18.1) scale(1.043,1)" class="g1"/><text transform="translate(444.29,18.1) scale(0.96,1)" text-anchor="start" class="t">.0</text>
<path d="M558.95 114.4V118" stroke="#808080" stroke-width="1"/>
<path d="M3.42 -7.0H2.8Q2.3 -5.9 1.0 -5.25V-4.4Q1.95 -4.75 2.55 -5.45V0H3.42Z" transform="translate(551.78,129.4) scale(1.043,1)" class="g1"/><text transform="translate(557.12,129.4) scale(0.96,1)" text-anchor="start" class="t">.0</text>
<text x="426.3" y="11.8" class="L">D</text>
<path d="M40.5 173.9H140.05" fill="none" stroke="#7c7c7c" stroke-width="1.3"/>
<path d="M40.5 273.5V173.5" fill="none" stroke="#464646" stroke-width="1.4"/>
<path d="M140.05 273.5V173.5" fill="none" stroke="#4a4a4a" stroke-width="1.35"/>
<polyline points="42.9,174 43,175.68 44.09,176.01 45.17,175.76 46.26,175.25 47.34,175.07 48.43,174.71 49.51,174.91 50.6,175.73 51.68,176.32 52.77,177.23 53.85,178.58 54.94,178.58 56.02,178.81 57.11,178.26 58.2,178.29 59.28,178.24 60.37,177.81 61.45,177.99 62.54,177.8 63.62,177.19 64.71,177.01 65.79,177.11 66.88,177.15 67.96,176.71 69.05,176.48 70.13,176.54 71.22,176.67 72.31,177.11 73.39,177.55 74.48,177.92 75.56,178.14 76.65,178.49 77.73,178.84 78.82,179.31 79.9,179.58 80.99,179.8 82.07,180.58 83.16,180.82 84.24,181.27 85.33,181.49 86.42,182.56 87.5,183.27 88.59,183.67 89.67,184.59 90.76,185.62 91.84,186.41 92.93,187.3 94.01,187.81 95.1,188.76 96.18,189.5 97.27,190.13 98.36,191.04 99.44,191.94 100.53,192.66 101.61,193.22 102.7,194.29 103.78,195.15 104.87,196.38 105.95,197.78 107.04,198.7 108.12,199.99 109.21,201.65 110.29,203.24 111.38,204.76 112.47,206.27 113.55,208.01 114.64,209.78 115.72,211.82 116.81,213.6 117.89,215.32 118.98,217.18 120.06,218.77 121.15,220.62 122.23,222.8 123.32,224.78 124.4,226.44 125.49,228.2 126.58,229.95 127.66,232.03 128.75,234.25 129.83,236.11 130.92,237.94 132,240.04 133.09,241.66 134.17,243.71 135.26,245.81 136.34,247.64 137.43,249.78 138.51,253 139.6,258.21 140,262 140,266" fill="none" stroke="#b0b0b0" stroke-width="0.7" stroke-linejoin="round"/>
<polyline points="42.9,174 43,177.24 44.09,176.77 45.17,175.85 46.26,175.42 47.34,175.36 48.43,174.95 49.51,174.67 50.6,175.14 51.68,176.3 52.77,177.4 53.85,178.55 54.94,178.49 56.02,178.68 57.11,178.78 58.2,179.14 59.28,179.38 60.37,179.42 61.45,179.23 62.54,179.14 63.62,178.94 64.71,178.66 65.79,178.57 66.88,178.66 67.96,178.42 69.05,178.24 70.13,178.25 71.22,178 72.31,178.31 73.39,178.41 74.48,178.54 75.56,178.91 76.65,179.02 77.73,179.4 78.82,179.86 79.9,179.91 80.99,179.86 82.07,180.43 83.16,180.63 84.24,180.92 85.33,181.43 86.42,182.19 87.5,183.26 88.59,184.18 89.67,185.7 90.76,187.07 91.84,188.18 92.93,189.92 94.01,191.21 95.1,192.35 96.18,194.25 97.27,196.23 98.36,198.1 99.44,199.26 100.53,200.57 101.61,201.22 102.7,201.98 103.78,202.28 104.87,202.24 105.95,202.42 107.04,202.73 108.12,203.14 109.21,203.68 110.29,204.33 111.38,205.33 112.47,206.77 113.55,207.94 114.64,209.97 115.72,211.66 116.81,214.18 117.89,216.1 118.98,218.78 120.06,221.1 121.15,223.5 122.23,226.06 123.32,228.64 124.4,231.08 125.49,233.29 126.58,235.36 127.66,237.47 128.75,239.42 129.83,240.75 130.92,242.05 132,244.15 133.09,245.7 134.17,247.28 135.26,248.44 136.34,250.24 137.43,251.41 138.51,254.55 139.6,258.57 140,262 140,266" fill="none" stroke="#bebebe" stroke-width="0.7" stroke-linejoin="round"/>
<polyline points="42.9,174.3 43,180.44 44.09,180.02 45.17,178.86 46.26,177.85 47.34,176.73 48.43,175.35 49.51,175.43 50.6,176.41 51.68,176.77 52.77,177.46 53.85,178.62 54.94,178.72 56.02,179.09 57.11,178.67 58.2,178.51 59.28,178.05 60.37,178.08 61.45,178.01 62.54,177.67 63.62,177.61 64.71,177.42 65.79,176.97 66.88,177.17 67.96,176.93 69.05,176.68 70.13,176.69 71.22,177.48 72.31,177.66 73.39,178.16 74.48,178.6 75.56,178.88 76.65,179.4 77.73,179.63 78.82,180.33 79.9,180.64 80.99,181.38 82.07,181.83 83.16,181.9 84.24,182.45 85.33,183.07 86.42,183.99 87.5,184.27 88.59,184.91 89.67,185.41 90.76,186.2 91.84,186.79 92.93,187.39 94.01,188.1 95.1,188.69 96.18,189.51 97.27,190.05 98.36,190.84 99.44,191.5 100.53,192.34 101.61,193.05 102.7,194.12 103.78,196.02 104.87,197.71 105.95,199.41 107.04,201.05 108.12,203.15 109.21,204.98 110.29,207.41 111.38,209.39 112.47,211.34 113.55,213.26 114.64,215.72 115.72,217.79 116.81,219.25 117.89,221.43 118.98,222.92 120.06,224.39 121.15,225.99 122.23,227.69 123.32,229.16 124.4,230.15 125.49,231.8 126.58,232.85 127.66,234.51 128.75,235.68 129.83,237.36 130.92,238.86 132,240.17 133.09,242.04 134.17,243.37 135.26,244.96 136.34,247.08 137.43,248.91 138.51,252.54 139.6,257.89 140,262 140,266" fill="none" stroke="#a9a9a9" stroke-width="0.7" stroke-linejoin="round"/>
<polyline points="42.9,174.3 43,178.52 44.09,178.4 45.17,178.55 46.26,178.39 47.34,178.06 48.43,177.7 49.51,177.6 50.6,177.98 51.68,178.52 52.77,178.69 53.85,178.99 54.94,179.12 56.02,179.49 57.11,179.22 58.2,179.03 59.28,179.19 60.37,179 61.45,178.87 62.54,178.77 63.62,178.37 64.71,178.31 65.79,178.42 66.88,178.42 67.96,178.43 69.05,178.38 70.13,177.89 71.22,178.17 72.31,178.6 73.39,178.9 74.48,179.09 75.56,179.56 76.65,179.69 77.73,180.44 78.82,180.81 79.9,181.1 80.99,181.38 82.07,182.07 83.16,182.28 84.24,182.93 85.33,183.52 86.42,184.01 87.5,184.69 88.59,185.58 89.67,186.51 90.76,187.57 91.84,188.95 92.93,190.48 94.01,191.27 95.1,192.4 96.18,194.42 97.27,196.14 98.36,197.88 99.44,199.25 100.53,200.48 101.61,201.99 102.7,202.52 103.78,203.47 104.87,204.23 105.95,205.36 107.04,206.17 108.12,207.41 109.21,208.86 110.29,210.02 111.38,211.57 112.47,213.23 113.55,214.38 114.64,216.11 115.72,218.03 116.81,220.19 117.89,222.03 118.98,223.74 120.06,225.67 121.15,227.47 122.23,229.5 123.32,231.15 124.4,233.3 125.49,235.11 126.58,236.68 127.66,238.05 128.75,239.54 129.83,240.35 130.92,241.99 132,244.03 133.09,245.6 134.17,247.06 135.26,248.99 136.34,250.83 137.43,253.08 138.51,255.13 139.6,259.46 140,262 140,266" fill="none" stroke="#bcbcbc" stroke-width="0.7" stroke-linejoin="round"/>
<polyline points="42.9,174.3 43,178.79 44.09,178.83 45.17,178.78 46.26,178.73 47.34,178.35 48.43,178.06 49.51,177.43 50.6,178.35 51.68,179.55 52.77,180.36 53.85,180.69 54.94,180.41 56.02,180.73 57.11,180.56 58.2,180.63 59.28,180.32 60.37,179.72 61.45,179.5 62.54,179.22 63.62,179.23 64.71,178.86 65.79,178.37 66.88,178.51 67.96,178 69.05,178.1 70.13,177.79 71.22,177.79 72.31,178.61 73.39,178.67 74.48,179.07 75.56,179.85 76.65,180.21 77.73,180.33 78.82,181.2 79.9,181.65 80.99,182.38 82.07,182.81 83.16,183.84 84.24,184.46 85.33,185.4 86.42,186.16 87.5,186.66 88.59,187.48 89.67,188.16 90.76,189.22 91.84,190.37 92.93,191.42 94.01,192.33 95.1,192.79 96.18,194.57 97.27,195.98 98.36,197.31 99.44,198.81 100.53,199.9 101.61,201.1 102.7,202.33 103.78,203.55 104.87,204.35 105.95,205.95 107.04,206.63 108.12,208.42 109.21,209.94 110.29,211.04 111.38,212.94 112.47,214.53 113.55,216.46 114.64,218.03 115.72,219.89 116.81,221.56 117.89,223.54 118.98,224.75 120.06,226.61 121.15,228.3 122.23,229.97 123.32,231.33 124.4,233.01 125.49,234.73 126.58,236.39 127.66,237.59 128.75,239.37 129.83,240.78 130.92,242.42 132,243.89 133.09,246.22 134.17,247.67 135.26,249.83 136.34,252.14 137.43,254.47 138.51,257.29 139.6,261.2 140,262 140,266" fill="none" stroke="#aeaeae" stroke-width="0.7" stroke-linejoin="round"/>
<path d="M140.05 256L140.05 263" stroke="#858585" stroke-width="1.4"/>
<path d="M39.9 273.5H140.65" fill="none" stroke="#383838" stroke-width="1.35"/>
<path d="M36.8 273.5H40.5" stroke="#505050" stroke-width="0.9"/>
<text transform="translate(33,276.7) scale(0.96,1)" text-anchor="end" class="t">0.0</text>
<path d="M40.5 273.5V277.1" stroke="#808080" stroke-width="1"/>
<text transform="translate(40,289) scale(0.96,1)" text-anchor="middle" class="t">0.0</text>
<path d="M36.8 253.58H40.5" stroke="#505050" stroke-width="0.9"/>
<text transform="translate(33,256.78) scale(0.96,1)" text-anchor="end" class="t">0.2</text>
<path d="M60.41 273.5V277.1" stroke="#808080" stroke-width="1"/>
<text transform="translate(59.91,289) scale(0.96,1)" text-anchor="middle" class="t">0.2</text>
<path d="M36.8 233.66H40.5" stroke="#505050" stroke-width="0.9"/>
<text transform="translate(33,236.86) scale(0.96,1)" text-anchor="end" class="t">0.4</text>
<path d="M80.32 273.5V277.1" stroke="#808080" stroke-width="1"/>
<text transform="translate(79.82,289) scale(0.96,1)" text-anchor="middle" class="t">0.4</text>
<path d="M36.8 213.74H40.5" stroke="#505050" stroke-width="0.9"/>
<text transform="translate(33,216.94) scale(0.96,1)" text-anchor="end" class="t">0.6</text>
<path d="M100.23 273.5V277.1" stroke="#808080" stroke-width="1"/>
<text transform="translate(99.73,289) scale(0.96,1)" text-anchor="middle" class="t">0.6</text>
<path d="M36.8 193.82H40.5" stroke="#505050" stroke-width="0.9"/>
<text transform="translate(33,197.02) scale(0.96,1)" text-anchor="end" class="t">0.8</text>
<path d="M120.14 273.5V277.1" stroke="#808080" stroke-width="1"/>
<text transform="translate(119.64,289) scale(0.96,1)" text-anchor="middle" class="t">0.8</text>
<path d="M36.8 173.9H40.5" stroke="#505050" stroke-width="0.9"/>
<path d="M3.42 -7.0H2.8Q2.3 -5.9 1.0 -5.25V-4.4Q1.95 -4.75 2.55 -5.45V0H3.42Z" transform="translate(19.66,177.1) scale(1.043,1)" class="g1"/><text transform="translate(24.99,177.1) scale(0.96,1)" text-anchor="start" class="t">.0</text>
<path d="M140.05 273.5V277.1" stroke="#808080" stroke-width="1"/>
<path d="M3.42 -7.0H2.8Q2.3 -5.9 1.0 -5.25V-4.4Q1.95 -4.75 2.55 -5.45V0H3.42Z" transform="translate(132.88,289) scale(1.043,1)" class="g1"/><text transform="translate(138.22,289) scale(0.96,1)" text-anchor="start" class="t">.0</text>
<text x="0.1" y="173.4" class="L">E</text>
<path d="M181 173.9H280.55" fill="none" stroke="#7c7c7c" stroke-width="1.3"/>
<path d="M181 273.5V173.5" fill="none" stroke="#464646" stroke-width="1.4"/>
<path d="M280.55 273.5V173.5" fill="none" stroke="#4a4a4a" stroke-width="1.35"/>
<polyline points="181,173.8 196.8,173.8 196.8,190.2 209.7,183.9 209.7,191.3 212.9,190.2 213.4,201 216.6,200.2 216.6,204 219.8,203.4 219.8,218.2 222.4,217.2 222.4,221 228.8,218.8 235.4,219.3 235.9,223.5 239,223 239.1,225.6 242,225.3 242.3,228.3 245.2,228.2 245.5,235.2 248.4,235.6 248.6,238.3 251.6,238.4 251.8,240.5 257.6,240.3 258.7,241 264,243.2 264.3,245 270.3,247.4 274.6,249 277.7,250.4 277.7,258 280.6,261.5" fill="none" stroke="#cacaca" stroke-width="0.7" stroke-linejoin="round"/>
<polyline points="181,173.8 200.4,173.8 200.4,198.7 206.6,193.9 206.6,208 208.7,206.5 208.7,212.5 216.6,205.5 216.6,224.5 219.8,222.8 219.8,226.5 225,224 225,229.5 228,228.2 228,231.5 234.3,229.9 237.5,228.8 237.5,237.3 241.8,235.7 242.3,239.4 247,240.5 247.6,245.2 251,245.6 251.3,247.5 256,246.8 256.3,249 262,248.3 264.5,250.5 264.5,254.3 270.3,253.8 271,255.5 275,256.5 277.7,258.5 280.6,262.2" fill="none" stroke="#c3c3c3" stroke-width="0.7" stroke-linejoin="round"/>
<polyline points="181,173.8 200.4,173.8 200.4,223.5 207.1,216.6 207.1,235.1 214,229.3 220.3,226.6 227.7,224.5 232.3,224.6 232.8,227.8 237.5,227 239.1,229 242,228.6 242.3,231.5 245.2,231.2 245.5,235.2 248.4,235 248.6,238.3 251.6,238 251.8,240.5 257.6,239.9 258.2,242 261.5,241.8 261.9,244.2 264.8,244 265,245.7 270.3,245.7 270.3,247.4 274.6,249 277.7,250 277.7,260.1 280.6,262" fill="none" stroke="#b2b2b2" stroke-width="0.7" stroke-linejoin="round"/>
<polyline points="181,173.8 190.5,173.8 190.5,213.5 197,202.3 197,210.8 209.7,199.2 209.7,214 213.4,211.3 213.4,229.5 216.6,227.5 216.6,232 222,228.5 222,231.5 228,229 228,231.5 234.3,229.9 237.5,228.8 237.5,237.3 241.8,235.7 242.3,239.4 247,240.5 247.6,245.8 253.4,245.3 253.9,247.4 264,247.4 264.5,254.3 270.3,253.8 271,257 275,257.5 277.7,260.1 280.6,262.5" fill="none" stroke="#ababab" stroke-width="0.7" stroke-linejoin="round"/>
<polyline points="181,173.8 190.5,173.8 190.5,213.5 197,202.3 197,210.8 203.4,205 203.4,241.5 206.6,239.3 206.6,246.2 209.7,245.2 209.7,246.8 213.4,246.2 213.4,252 219.3,251.5 220.3,252.6 228.8,251 237.3,249.9 244.9,249.5 245.5,251.1 248.4,251.5 248.6,253.2 254.5,252.7 255,255.3 258.4,255.8 258.7,257.5 270.3,256.4 271.4,258.5 274.6,259 275.1,261.7 280.6,262.8" fill="none" stroke="#b9b9b9" stroke-width="0.7" stroke-linejoin="round"/>
<polyline points="190.5,173.8 190.5,198.5" fill="none" stroke="#7c7c7c" stroke-width="0.84" stroke-linejoin="round"/>
<path d="M280.55 259L280.55 264" stroke="#858585" stroke-width="1.4"/>
<path d="M180.4 273.5H281.15" fill="none" stroke="#383838" stroke-width="1.35"/>
<path d="M177.3 273.5H181" stroke="#505050" stroke-width="0.9"/>
<text transform="translate(174.3,276.7) scale(0.96,1)" text-anchor="end" class="t">0.0</text>
<path d="M181 273.5V277.1" stroke="#808080" stroke-width="1"/>
<text transform="translate(180.5,289) scale(0.96,1)" text-anchor="middle" class="t">0.0</text>
<path d="M177.3 253.58H181" stroke="#505050" stroke-width="0.9"/>
<text transform="translate(174.3,256.78) scale(0.96,1)" text-anchor="end" class="t">0.2</text>
<path d="M200.91 273.5V277.1" stroke="#808080" stroke-width="1"/>
<text transform="translate(200.41,289) scale(0.96,1)" text-anchor="middle" class="t">0.2</text>
<path d="M177.3 233.66H181" stroke="#505050" stroke-width="0.9"/>
<text transform="translate(174.3,236.86) scale(0.96,1)" text-anchor="end" class="t">0.4</text>
<path d="M220.82 273.5V277.1" stroke="#808080" stroke-width="1"/>
<text transform="translate(220.32,289) scale(0.96,1)" text-anchor="middle" class="t">0.4</text>
<path d="M177.3 213.74H181" stroke="#505050" stroke-width="0.9"/>
<text transform="translate(174.3,216.94) scale(0.96,1)" text-anchor="end" class="t">0.6</text>
<path d="M240.73 273.5V277.1" stroke="#808080" stroke-width="1"/>
<text transform="translate(240.23,289) scale(0.96,1)" text-anchor="middle" class="t">0.6</text>
<path d="M177.3 193.82H181" stroke="#505050" stroke-width="0.9"/>
<text transform="translate(174.3,197.02) scale(0.96,1)" text-anchor="end" class="t">0.8</text>
<path d="M260.64 273.5V277.1" stroke="#808080" stroke-width="1"/>
<text transform="translate(260.14,289) scale(0.96,1)" text-anchor="middle" class="t">0.8</text>
<path d="M177.3 173.9H181" stroke="#505050" stroke-width="0.9"/>
<path d="M3.42 -7.0H2.8Q2.3 -5.9 1.0 -5.25V-4.4Q1.95 -4.75 2.55 -5.45V0H3.42Z" transform="translate(160.96,177.1) scale(1.043,1)" class="g1"/><text transform="translate(166.29,177.1) scale(0.96,1)" text-anchor="start" class="t">.0</text>
<path d="M280.55 273.5V277.1" stroke="#808080" stroke-width="1"/>
<path d="M3.42 -7.0H2.8Q2.3 -5.9 1.0 -5.25V-4.4Q1.95 -4.75 2.55 -5.45V0H3.42Z" transform="translate(273.38,289) scale(1.043,1)" class="g1"/><text transform="translate(278.72,289) scale(0.96,1)" text-anchor="start" class="t">.0</text>
<text x="149.0" y="173.4" class="L">F</text>
<path d="M320.2 173.9H419.75" fill="none" stroke="#7c7c7c" stroke-width="1.3"/>
<path d="M320.2 273.5V173.5" fill="none" stroke="#464646" stroke-width="1.4"/>
<path d="M419.75 273.5V173.5" fill="none" stroke="#4a4a4a" stroke-width="1.35"/>
<polyline points="320.2,173.8 338.6,173.8 338.6,190.2 343.4,187.6 343.9,190.8 346,190.3 346.4,205 349.7,208.2 352.9,211.9 356.1,216.1 360.3,218.8 366.7,217.7 367.7,220.9 370.17,220.36 370.17,221.84 372.91,221.43 372.91,222.22 375.8,221.8 375.8,224.48 376.72,224.3 376.72,226.66 377.41,226.02 377.41,230.05 379.51,229.6 379.51,231.59 380.95,231.44 380.95,231.79 382.9,231.75 382.9,233.5 384.96,233.24 384.96,236.36 387.95,236.11 387.95,238.02 389.31,237.47 389.31,238.92 390.91,238.79 390.91,238.74 392.08,238.44 392.08,241.18 394.69,240.93 394.69,243.49 397.16,243.08 397.16,243.91 398.31,243.73 398.31,245.85 401.44,245.64 401.44,246.99 404.32,246.51 404.32,250.86 406.44,250.71 406.44,251.63 408.49,251.59 408.49,253.66 409.7,253.54 409.7,255.98 410.65,255.69 410.65,256.54 412.54,256.08 412.54,257.85 413.58,257.43 413.58,258.76 415.07,258.49 415.07,259.74 416.68,259.56 416.68,260.96 417.83,260.45 417.83,262.94 419.8,262.74 419.8,262.7" fill="none" stroke="#cccccc" stroke-width="0.7" stroke-linejoin="round"/>
<polyline points="320.2,173.8 342.6,173.8 342.6,178.6 346.4,178.6 346.4,181 350.3,181 350.3,216.6 354,214.5 356.1,216.1 357,218 360.3,218.8 362,222 364.48,221.73 364.48,222.45 366.96,222.25 366.96,222.71 368.03,222.6 368.03,226.32 369.28,226.29 369.28,227.54 370.28,227.02 370.28,227.58 371.98,227.31 371.98,229.45 373.68,229.15 373.68,230.85 376.59,230.83 376.59,232.27 379.2,231.65 379.2,234.48 381.59,234.06 381.59,236.46 383.92,236.23 383.92,236.92 386.54,236.49 386.54,238.97 387.99,238.82 387.99,238.89 390.01,238.57 390.01,240.66 391.37,240.34 391.37,242.42 394.27,241.9 394.27,243.4 395.42,243.07 395.42,244.93 398.17,244.66 398.17,246.64 399.37,246.15 399.37,247.8 401.85,247.45 401.85,249.18 403.53,248.74 403.53,250.68 405.24,250.5 405.24,252.07 407.78,251.66 407.78,254.96 408.76,254.66 408.76,255.41 409.82,255.23 409.82,256.66 412.5,256.05 412.5,259.62 414.56,259.01 414.56,261.23 415.87,260.63 415.87,261.53 419.15,261.41 419.15,263.88 419.8,263.4 419.8,262.9" fill="none" stroke="#c5c5c5" stroke-width="0.7" stroke-linejoin="round"/>
<polyline points="320.2,173.8 345,173.8 345,174.9 346,178.6 347.1,178.6 347.1,186.5 349.7,187 349.7,193.9 351.9,195.5 352.4,196 352.4,208.7 355,212.4 358.2,212.9 359.3,218.8 359.8,224 364.6,222.5 369.9,224.6 371.01,224.44 371.01,226.7 373.09,226.39 373.09,228.99 375.64,228.63 375.64,230.56 378.59,230.32 378.59,231.94 380.11,231.74 380.11,232.87 381.74,232.34 381.74,233.35 383.14,232.72 383.14,235.36 384.61,235 384.61,236.37 387.12,236.28 387.12,238.46 388.54,238.18 388.54,239.16 390.88,239.03 390.88,239.68 392.49,239.51 392.49,241.15 394.24,240.76 394.24,242.15 396.29,242.06 396.29,243.33 399.19,243.18 399.19,245.4 401.38,245.27 401.38,246.86 402.4,246.81 402.4,247.93 403.94,247.32 403.94,249.69 405.17,249.23 405.17,250.42 407.76,250.4 407.76,253.74 410.24,253.22 410.24,254.81 412.71,254.4 412.71,258.25 415.33,257.99 415.33,259.38 418.14,258.81 418.14,262.13 419.8,261.61 419.8,262.5" fill="none" stroke="#b7b7b7" stroke-width="0.7" stroke-linejoin="round"/>
<polyline points="320.2,173.8 356.1,173.8 356.1,174.9 358.7,177 359.3,181.8 360.3,182.3 360.9,191.3 361.9,191.8 362.4,198.2 366.1,196.6 366.7,198.7 367.2,199.2 370.4,201.3 370.9,208.7 374.1,210.8 375.4,219.2 378.5,219.8 379.1,221.9 381.8,222.4 382.3,229.8 383.62,229.38 383.62,230.15 386.3,229.73 386.3,231.11 389.05,230.9 389.05,232.23 390,232.1 390,235.62 391.7,235.36 391.7,238.1 393.43,237.82 393.43,239.05 396.3,238.49 396.3,239.87 398.93,239.8 398.93,241.43 400.41,241.03 400.41,242.75 402.59,242.69 402.59,244.28 404.21,243.95 404.21,247.06 406.33,246.77 406.33,248.52 407.36,248.01 407.36,249.8 408.56,249.74 408.56,251.7 411.05,251.64 411.05,254.86 412.63,254.84 412.63,255.58 414.03,255.5 414.03,257.71 416.68,257.65 416.68,259.47 419.02,259.03 419.02,261.17 419.8,260.83 419.8,262.5" fill="none" stroke="#b2b2b2" stroke-width="0.7" stroke-linejoin="round"/>
<polyline points="320.2,173.8 330.2,173.8 330.2,184.4 331.2,185 331.2,196 332.3,197.6 332.3,223 334.9,220.3 335.5,222.5 337.6,224.6 337.6,230.3 339.2,232.5 345.5,226.1 348.7,227.7 349.7,226 351.9,228.2 356.1,225.6 357.7,228.8 358.2,234.1 360.3,233.6 360.9,235.1 364.6,233.5 365.1,240.4 369.13,240.27 369.13,239.65 370.54,239.42 370.54,239.31 373.95,238.99 373.95,239.25 375.63,238.93 375.63,240.37 379.35,240.01 379.35,243.03 380.64,242.54 380.64,242.94 383,242.66 383,246.81 385.65,246.8 385.65,248.45 389.29,248.35 389.29,248.39 393.44,248 393.44,249.06 394.74,248.9 394.74,250.37 396.51,249.87 396.51,251.52 399.5,251.46 399.5,252.54 401.29,252.27 401.29,253.71 403.03,253.4 403.03,256.07 404.75,255.79 404.75,256.54 408.14,256.01 408.14,257.95 411.58,257.82 411.58,259.92 414.86,259.46 414.86,261.42 416.8,260.91 416.8,262.02 419.8,261.83 419.8,263.2" fill="none" stroke="#bebebe" stroke-width="0.7" stroke-linejoin="round"/>
<polyline points="330.2,173.8 330.2,184.4" fill="none" stroke="#7c7c7c" stroke-width="0.84" stroke-linejoin="round"/>
<path d="M419.75 259L419.75 264" stroke="#858585" stroke-width="1.4"/>
<path d="M319.6 273.5H420.35" fill="none" stroke="#383838" stroke-width="1.35"/>
<path d="M316.5 273.5H320.2" stroke="#505050" stroke-width="0.9"/>
<text transform="translate(313.4,276.7) scale(0.96,1)" text-anchor="end" class="t">0.0</text>
<path d="M320.2 273.5V277.1" stroke="#808080" stroke-width="1"/>
<text transform="translate(319.7,289) scale(0.96,1)" text-anchor="middle" class="t">0.0</text>
<path d="M316.5 253.58H320.2" stroke="#505050" stroke-width="0.9"/>
<text transform="translate(313.4,256.78) scale(0.96,1)" text-anchor="end" class="t">0.2</text>
<path d="M340.11 273.5V277.1" stroke="#808080" stroke-width="1"/>
<text transform="translate(339.61,289) scale(0.96,1)" text-anchor="middle" class="t">0.2</text>
<path d="M316.5 233.66H320.2" stroke="#505050" stroke-width="0.9"/>
<text transform="translate(313.4,236.86) scale(0.96,1)" text-anchor="end" class="t">0.4</text>
<path d="M360.02 273.5V277.1" stroke="#808080" stroke-width="1"/>
<text transform="translate(359.52,289) scale(0.96,1)" text-anchor="middle" class="t">0.4</text>
<path d="M316.5 213.74H320.2" stroke="#505050" stroke-width="0.9"/>
<text transform="translate(313.4,216.94) scale(0.96,1)" text-anchor="end" class="t">0.6</text>
<path d="M379.93 273.5V277.1" stroke="#808080" stroke-width="1"/>
<text transform="translate(379.43,289) scale(0.96,1)" text-anchor="middle" class="t">0.6</text>
<path d="M316.5 193.82H320.2" stroke="#505050" stroke-width="0.9"/>
<text transform="translate(313.4,197.02) scale(0.96,1)" text-anchor="end" class="t">0.8</text>
<path d="M399.84 273.5V277.1" stroke="#808080" stroke-width="1"/>
<text transform="translate(399.34,289) scale(0.96,1)" text-anchor="middle" class="t">0.8</text>
<path d="M316.5 173.9H320.2" stroke="#505050" stroke-width="0.9"/>
<path d="M3.42 -7.0H2.8Q2.3 -5.9 1.0 -5.25V-4.4Q1.95 -4.75 2.55 -5.45V0H3.42Z" transform="translate(300.06,177.1) scale(1.043,1)" class="g1"/><text transform="translate(305.39,177.1) scale(0.96,1)" text-anchor="start" class="t">.0</text>
<path d="M419.75 273.5V277.1" stroke="#808080" stroke-width="1"/>
<path d="M3.42 -7.0H2.8Q2.3 -5.9 1.0 -5.25V-4.4Q1.95 -4.75 2.55 -5.45V0H3.42Z" transform="translate(412.58,289) scale(1.043,1)" class="g1"/><text transform="translate(417.92,289) scale(0.96,1)" text-anchor="start" class="t">.0</text>
<text x="286.9" y="173.4" class="L">G</text>
<path d="M459.4 173.9H558.95" fill="none" stroke="#7c7c7c" stroke-width="1.3"/>
<path d="M459.4 273.5V173.5" fill="none" stroke="#464646" stroke-width="1.4"/>
<path d="M558.95 273.5V173.5" fill="none" stroke="#4a4a4a" stroke-width="1.35"/>
<polyline points="459.4,173.8 518.7,173.8 518.7,174.3 520.22,174.09 520.22,174.61 522.94,174.59 522.94,175.3 525.54,175.2 525.54,176.87 527.65,176.78 527.65,177.72 528.92,177.32 528.92,179.08 531.22,178.74 531.22,180.92 533.59,180.6 533.59,182.79 535.47,182.58 535.47,183.83 537.33,183.74 537.33,186.14 538.69,185.75 538.69,187.37 539.63,187.21 539.63,187.57 541.25,187.4 541.25,188.93 543.27,188.76 543.27,191.17 544.32,191.13 544.32,190.98 546.65,190.54 546.65,193.8 547.96,193.58 547.96,194.72 549.28,194.39 549.28,195.95 549.9,195.68 549.9,196.72 551.48,196.44 551.48,200.31 552.26,200.24 552.26,202.73 552.75,202.32 552.75,206.18 553.13,205.92 553.13,208.83 553.28,208.78 553.28,210.06 553.52,209.7 553.52,211.77 553.8,211.6 553.8,214.93 553.97,214.63 553.97,216.29 554.49,215.87 554.49,219.97 554.84,219.54 554.84,221.49 555.1,221.23 555.1,223.65 555.63,223.43 555.63,226.68 555.83,226.57 555.83,227.61 556.25,227.54 556.25,231.56 556.53,231.2 556.53,232.94 556.6,232.6 556.6,234 557.5,242 558.2,250 558.9,257 558.9,268" fill="none" stroke="#c5c5c5" stroke-width="0.7" stroke-linejoin="round"/>
<polyline points="459.4,173.8 511,173.8 511,175.9 514.5,175.48 514.5,175.63 516.04,175.29 516.04,175.69 517.29,175.41 517.29,176.4 520.5,176.04 520.5,176.34 521.55,176.26 521.55,178.18 522.51,177.94 522.51,178.64 525.01,178.23 525.01,179.54 526.99,179.31 526.99,180.49 530.25,180.2 530.25,181.09 531.63,180.95 531.63,182.73 534.35,182.48 534.35,184.34 535.85,184.08 535.85,185.53 537.72,185.34 537.72,187.67 540.15,187.43 540.15,190.24 542.17,189.8 542.17,191.59 544.61,191.4 544.61,194.28 546.53,193.87 546.53,196.48 547.18,196.25 547.18,198.23 548.7,198.18 548.7,200.56 549.71,200.49 549.71,203.52 550.45,203.37 550.45,204.93 550.89,204.78 550.89,206.29 551.71,206.27 551.71,209.27 552.37,208.92 552.37,212.16 553.1,212.08 553.1,215.66 553.7,215.64 553.7,218.71 554.32,218.34 554.32,221.85 554.73,221.65 554.73,224.94 555.19,224.72 555.19,227.69 555.3,227.46 555.3,228 556.5,236 557.5,244 558.2,252 558.9,258 558.9,268" fill="none" stroke="#bebebe" stroke-width="0.7" stroke-linejoin="round"/>
<polyline points="459.4,173.8 490,173.8 490.4,174.6 493.81,174.56 493.81,174.38 497.28,174.26 497.28,174.51 500.62,174.15 500.62,175.3 502.02,175.14 502.02,175.12 504.47,174.98 504.47,175.74 506.32,175.49 506.32,177.49 508.49,177.44 508.49,178.09 509.84,177.78 509.84,179.36 511.32,179.25 511.32,180.16 513.37,179.75 513.37,180.79 515.08,180.38 515.08,181.12 517.34,180.7 517.34,181.03 518.57,180.84 518.57,181.15 519.93,180.8 519.93,181.46 522.75,181.03 522.75,182.89 524.86,182.48 524.86,183.68 527.12,183.24 527.12,184.29 529.76,184.14 529.76,185.81 531.45,185.64 531.45,187.24 532.55,187.21 532.55,187.15 535,187.06 535,189.3 537.01,188.88 537.01,191.49 539.14,191.44 539.14,192.48 541.19,192.41 541.19,194.57 543.88,194.21 543.88,196.88 545.44,196.69 545.44,197.92 547.65,197.73 547.65,200.68 548.75,200.29 548.75,201.83 550.07,201.44 550.07,204.55 550.95,204.37 550.95,207.06 551.57,206.69 551.57,208.92 552.01,208.81 552.01,210.19 552.5,210.01 552.5,212.1 553.11,211.86 553.11,215.48 553.64,215.12 553.64,217.8 554.05,217.53 554.05,219.55 554.55,219.31 554.55,222.5 554.84,222.39 554.84,224.66 555.09,224.63 555.09,226.4 555.38,226.16 555.38,227.92 555.85,227.68 555.85,230.69 556,230.48 556,232 557,240 558,248 558.5,254 558.9,259 558.9,268" fill="none" stroke="#b5b5b5" stroke-width="0.7" stroke-linejoin="round"/>
<polyline points="459.4,173.8 489.9,173.8 490.4,175.4 493.3,175.28 493.3,176.01 496.51,175.6 496.51,176.11 497.45,175.89 497.45,176.28 499.49,176.22 499.49,178.33 501.15,178.03 501.15,178.79 503.96,178.73 503.96,179.51 505.38,179.07 505.38,179.09 507.55,178.85 507.55,178.26 509.1,177.98 509.1,177.9 511.91,177.61 511.91,178.59 514.73,178.42 514.73,179.83 517.64,179.66 517.64,180.86 519.81,180.49 519.81,181.14 522.89,181.06 522.89,182.01 526.09,181.82 526.09,183.94 527.42,183.83 527.42,184.92 529.59,184.9 529.59,185.47 532.71,185.34 532.71,187.15 534.89,186.81 534.89,189.1 536.4,188.67 536.4,190.34 537.69,189.98 537.69,192.52 539.64,192.27 539.64,195.22 540.42,195.05 540.42,196.25 542.15,196.11 542.15,198.51 544.71,198.36 544.71,200.55 545.96,200.2 545.96,202.18 547.06,202.18 547.06,203.45 547.71,203.21 547.71,204.85 548.56,204.67 548.56,207.68 549.26,207.28 549.26,209.57 550.38,209.4 550.38,212.32 551.51,212.18 551.51,216.09 552.13,215.92 552.13,217.91 553.05,217.7 553.05,220.35 553.42,220.01 553.42,221.72 553.81,221.49 553.81,223.96 554.48,223.86 554.48,226.73 555.18,226.65 555.18,229.27 555.88,228.91 555.88,231.92 555.9,231.9 555.9,232.5 557,239.9 558,248.3 558.5,254.7 558.9,259 558.9,268" fill="none" stroke="#b0b0b0" stroke-width="0.7" stroke-linejoin="round"/>
<polyline points="459.4,173.8 464.5,173.8 464.5,183.9 465.5,184 465.5,190.2 469.8,184.4 471.51,184.24 471.51,183.3 474.3,183.22 474.3,181.17 477.3,181.05 477.3,180.23 478.96,180.18 478.96,179.32 481.91,179.07 481.91,179.32 483.69,179.05 483.69,182.1 484.55,182.04 484.55,182.49 487.9,182.35 487.9,182.38 489.66,182.17 489.66,181.23 491.54,181.04 491.54,181.17 493.5,181.06 493.5,181.16 495.35,181 495.35,183.05 496.41,182.88 496.41,184.27 499.13,183.92 499.13,184.13 502.33,183.86 502.33,183.74 504.75,183.45 504.75,183.88 507.71,183.67 507.71,184.88 510.22,184.8 510.22,185.79 513.27,185.52 513.27,186.11 514.86,186.07 514.86,186.7 516.87,186.49 516.87,187.68 519.13,187.49 519.13,187.52 520.5,187.21 520.5,188.1 523.74,187.76 523.74,189.6 526.25,189.57 526.25,190.99 527.57,190.64 527.57,191.37 529.97,191.31 529.97,192.62 532,192.52 532,193.16 533.52,192.95 533.52,193.55 534.88,193.47 534.88,194.91 536.86,194.6 536.86,195.97 538.03,195.91 538.03,196.99 539.97,196.66 539.97,197.88 541.69,197.82 541.69,199.83 542.75,199.74 542.75,201.32 544.34,201.07 544.34,204.13 544.92,203.96 544.92,204.9 545.65,204.61 545.65,206.34 546.96,206.24 546.96,209.21 547.63,209.11 547.63,211.32 548.5,211.13 548.5,212.98 549.4,212.88 549.4,214.97 550.14,214.62 550.14,217.75 550.93,217.58 550.93,219.64 551.72,219.47 551.72,221.67 552.47,221.49 552.47,224.18 552.89,224.06 552.89,225.39 553.89,225.11 553.89,228.94 554.48,228.92 554.48,230.23 554.9,230.19 554.9,231.2 555.59,230.99 555.59,233.33 555.7,233.15 555.7,234 556.8,241 557.9,248.3 558.4,254.7 558.9,260 558.9,268" fill="none" stroke="#aeaeae" stroke-width="0.7" stroke-linejoin="round"/>
<path d="M558.95 252L558.95 265" stroke="#858585" stroke-width="1.4"/>
<path d="M458.8 273.5H559.55" fill="none" stroke="#383838" stroke-width="1.35"/>
<path d="M455.7 273.5H459.4" stroke="#505050" stroke-width="0.9"/>
<text transform="translate(452.3,276.7) scale(0.96,1)" text-anchor="end" class="t">0.0</text>
<path d="M459.4 273.5V277.1" stroke="#808080" stroke-width="1"/>
<text transform="translate(458.9,289) scale(0.96,1)" text-anchor="middle" class="t">0.0</text>
<path d="M455.7 253.58H459.4" stroke="#505050" stroke-width="0.9"/>
<text transform="translate(452.3,256.78) scale(0.96,1)" text-anchor="end" class="t">0.2</text>
<path d="M479.31 273.5V277.1" stroke="#808080" stroke-width="1"/>
<text transform="translate(478.81,289) scale(0.96,1)" text-anchor="middle" class="t">0.2</text>
<path d="M455.7 233.66H459.4" stroke="#505050" stroke-width="0.9"/>
<text transform="translate(452.3,236.86) scale(0.96,1)" text-anchor="end" class="t">0.4</text>
<path d="M499.22 273.5V277.1" stroke="#808080" stroke-width="1"/>
<text transform="translate(498.72,289) scale(0.96,1)" text-anchor="middle" class="t">0.4</text>
<path d="M455.7 213.74H459.4" stroke="#505050" stroke-width="0.9"/>
<text transform="translate(452.3,216.94) scale(0.96,1)" text-anchor="end" class="t">0.6</text>
<path d="M519.13 273.5V277.1" stroke="#808080" stroke-width="1"/>
<text transform="translate(518.63,289) scale(0.96,1)" text-anchor="middle" class="t">0.6</text>
<path d="M455.7 193.82H459.4" stroke="#505050" stroke-width="0.9"/>
<text transform="translate(452.3,197.02) scale(0.96,1)" text-anchor="end" class="t">0.8</text>
<path d="M539.04 273.5V277.1" stroke="#808080" stroke-width="1"/>
<text transform="translate(538.54,289) scale(0.96,1)" text-anchor="middle" class="t">0.8</text>
<path d="M455.7 173.9H459.4" stroke="#505050" stroke-width="0.9"/>
<path d="M3.42 -7.0H2.8Q2.3 -5.9 1.0 -5.25V-4.4Q1.95 -4.75 2.55 -5.45V0H3.42Z" transform="translate(438.96,177.1) scale(1.043,1)" class="g1"/><text transform="translate(444.29,177.1) scale(0.96,1)" text-anchor="start" class="t">.0</text>
<path d="M558.95 273.5V277.1" stroke="#808080" stroke-width="1"/>
<path d="M3.42 -7.0H2.8Q2.3 -5.9 1.0 -5.25V-4.4Q1.95 -4.75 2.55 -5.45V0H3.42Z" transform="translate(551.78,289) scale(1.043,1)" class="g1"/><text transform="translate(557.12,289) scale(0.96,1)" text-anchor="start" class="t">.0</text>
<text x="426.6" y="173.4" class="L">H</text>
<text transform="translate(11.2,66.2) rotate(-90)" text-anchor="middle" class="a">TPR</text>
<text transform="translate(11.2,220.7) rotate(-90)" text-anchor="middle" class="a">PPV</text>
<text x="296" y="152.4" text-anchor="middle" class="a">FPR</text>
<text x="296" y="310.9" text-anchor="middle" class="a">TPR</text>
</svg>
</body></html>
